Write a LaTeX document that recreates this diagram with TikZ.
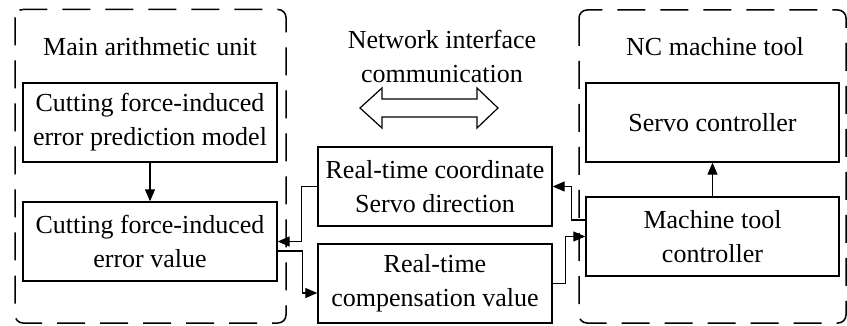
\documentclass[tikz,border=0pt]{standalone}
\usepackage{fontspec}
\setmainfont{Liberation Serif}
\usetikzlibrary{arrows.meta, calc}

\begin{document}
\begin{tikzpicture}[x=1pt, y=-1pt,
  font=\fontsize{26}{34}\selectfont,
  box/.style={draw, line width=1.4pt, align=center, inner sep=0pt},
  frame/.style={draw, line width=1.5pt, rounded corners=8pt, dash pattern=on 28pt off 15pt},
  arr/.style={line width=1.3pt, -{Triangle[length=12pt,width=10pt]}}]
\useasboundingbox (0,0) rectangle (847,326);

% two dashed frames
\draw[frame] (15,9.5) rectangle (286,323);
\draw[frame] (579,10) rectangle (846,323);

% titles
\node (mautitle) at (150,47) {Main arithmetic unit};
\node (nctitle) at (715,47) {NC machine tool};
\node[align=center] (nettitle) at (442,56) {Network interface\\communication};

% boxes
\node[box, minimum width=254pt, minimum height=79pt] (model) at (150,122.5) {Cutting force-induced\\error prediction model};
\node[box, minimum width=254pt, minimum height=79pt] (err) at (150,241.5) {Cutting force-induced\\error value};
\node[box, minimum width=234pt, minimum height=79pt] (rtc) at (435,186.5) {Real-time coordinate\\Servo direction};
\node[box, minimum width=234pt, minimum height=79pt] (rtcomp) at (435,283.5) {Real-time\\compensation value};
\node[box, minimum width=253pt, minimum height=79pt] (servo) at (712.5,122.5) {Servo controller};
\node[box, minimum width=253pt, minimum height=79pt] (mtc) at (712.5,236.5) {Machine tool\\controller};

% hollow double arrow
\coordinate (net) at (429,108);
\draw[line width=1.2pt, fill=white] ($(net)+(-69,0)$) -- ++(22,-20) -- ++(0,11) -- ++(95,0) -- ++(0,-11)
  -- ++(21,20) -- ++(-21,20) -- ++(0,-11) -- ++(-95,0) -- ++(0,11) -- cycle;

% connectors
\draw[arr] (model) -- (err);
\draw[arr] (mtc) -- (servo);
\draw[arr] ([yshift=16.5pt]mtc.west) -- ++(-14,0) |- (rtc.east);
\draw[arr] (rtcomp.east) -- ++(13,0) |- (mtc.west);
\draw[arr] (rtc.west) -- ++(-16,0) |- (err.east);
\draw[arr] ([yshift=-9.5pt]err.east) -- ++(25,0) |- ([yshift=-9.5pt]rtcomp.west);
\end{tikzpicture}
\end{document}
